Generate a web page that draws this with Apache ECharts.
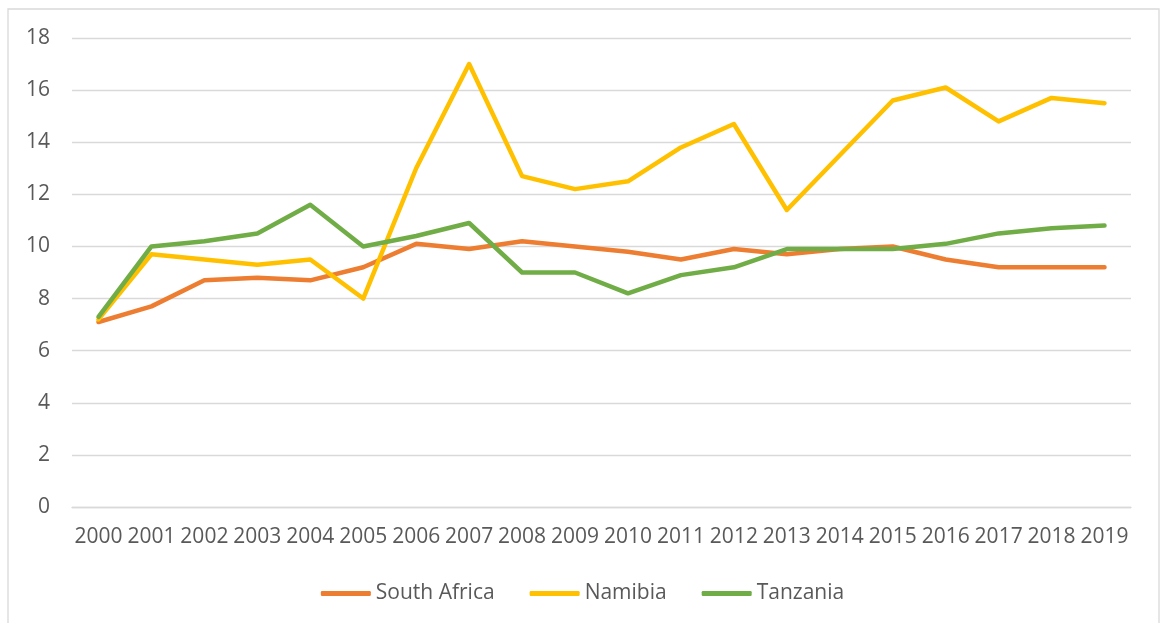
<!DOCTYPE html>
<html>
<head>
<meta charset="utf-8">
<script src="https://cdn.jsdelivr.net/npm/echarts@6/dist/echarts.min.js"></script>
<style>
html,body{margin:0;padding:0;background:#fff;}
#chart{width:1165px;height:623px;}
</style>
</head>
<body>
<div id="chart"></div>
<script>
const years = ['2000','2001','2002','2003','2004','2005','2006','2007','2008','2009','2010','2011','2012','2013','2014','2015','2016','2017','2018','2019'];
const southAfrica = [7.1,7.7,8.7,8.8,8.7,9.2,10.1,9.9,10.2,10.0,9.8,9.5,9.9,9.7,9.9,10.0,9.5,9.2,9.2,9.2];
const namibia = [7.2,9.7,9.5,9.3,9.5,8.0,13.0,17.0,12.7,12.2,12.5,13.8,14.7,11.4,13.5,15.6,16.1,14.8,15.7,15.5];
const tanzania = [7.3,10.0,10.2,10.5,11.6,10.0,10.4,10.9,9.0,9.0,8.2,8.9,9.2,9.9,9.9,9.9,10.1,10.5,10.7,10.8];
const seriesNames = ['South Africa','Namibia','Tanzania'];
const seriesColors = ['#ED7D31','#FFC000','#70AD47'];

const chart = echarts.init(document.getElementById('chart'));
const font = "'Open Sans', 'Liberation Sans', sans-serif";
const dataSets = [southAfrica, namibia, tanzania];

chart.setOption({
  animation: false,
  backgroundColor: '#ffffff',
  graphic: [{
    type: 'rect',
    shape: {x: 8, y: 9, width: 1151, height: 640},
    style: {fill: 'none', stroke: '#d9d9d9', lineWidth: 1.3},
    silent: true, z: -10
  }],
  grid: {left: 72, right: 34, top: 38, bottom: 116},
  legend: {
    top: 578,
    left: 'center',
    itemWidth: 50,
    itemHeight: 5,
    itemGap: 35,
    icon: 'roundRect',
    textStyle: {fontSize: 21, color: '#595959', fontFamily: font},
    data: seriesNames
  },
  xAxis: {
    type: 'category',
    data: years,
    boundaryGap: true,
    axisLine: {show: true, lineStyle: {color: '#d9d9d9', width: 1.3}},
    axisTick: {show: false},
    axisLabel: {interval: 0, fontSize: 21, color: '#595959', fontFamily: font, margin: 20}
  },
  yAxis: {
    type: 'value',
    min: 0, max: 18, interval: 2,
    axisLine: {show: false},
    axisTick: {show: false},
    splitLine: {lineStyle: {color: '#d9d9d9', width: 1.3}},
    axisLabel: {fontSize: 21, color: '#595959', fontFamily: font, margin: 22}
  },
  series: seriesNames.map((n, i) => ({
    name: n,
    type: 'line',
    data: dataSets[i],
    symbol: 'none',
    color: seriesColors[i],
    lineStyle: {width: 4.5, color: seriesColors[i], cap: 'round', join: 'round'},
    itemStyle: {color: seriesColors[i]}
  }))
});
</script>
</body>
</html>
